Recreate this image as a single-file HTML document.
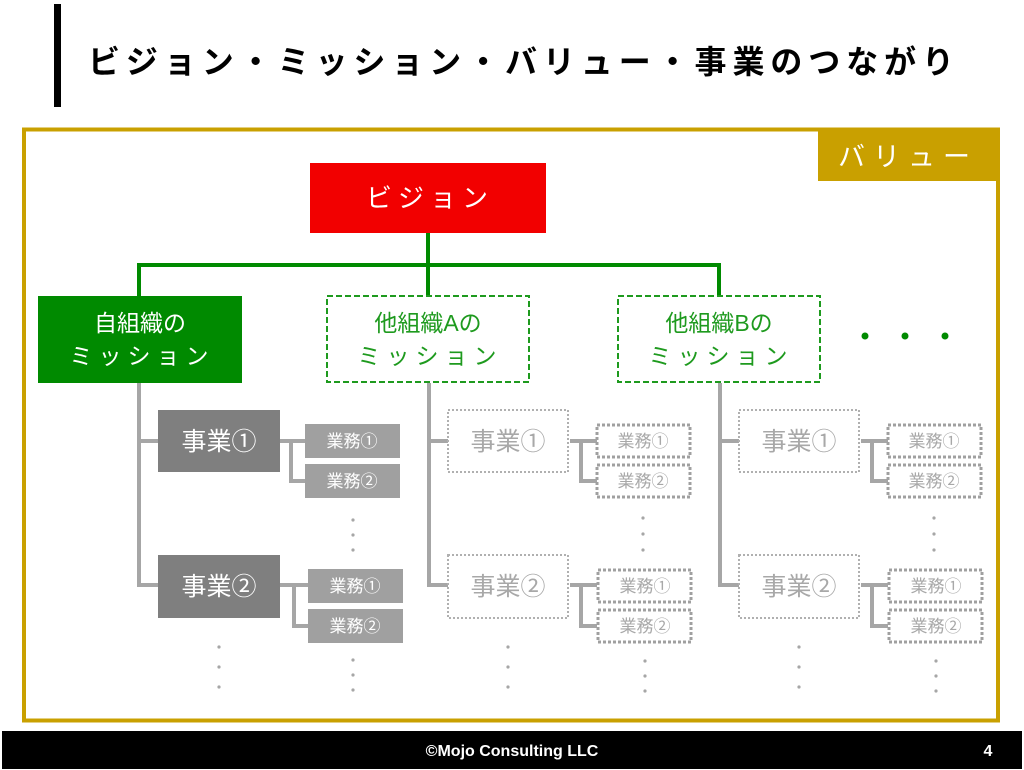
<!DOCTYPE html>
<html><head><meta charset="utf-8"><style>
html,body{margin:0;padding:0;background:#fff;}
svg{display:block;font-family:"Liberation Sans","Noto Sans CJK JP",sans-serif;}
</style></head><body>
<svg width="1024" height="770" viewBox="0 0 1024 770" xmlns="http://www.w3.org/2000/svg">
<rect x="54" y="4" width="7" height="103" fill="#000"/>
<text x="88" y="73" font-size="32" font-weight="bold" textLength="866" lengthAdjust="spacing" fill="#000">ビジョン・ミッション・バリュー・事業のつながり</text>

<rect x="24" y="129.5" width="974" height="591" fill="none" stroke="#C9A000" stroke-width="4"/>
<rect x="818" y="130" width="181" height="51" fill="#C9A000"/>
<text x="908" y="166" font-size="27" fill="#fff" text-anchor="middle" letter-spacing="8">バリュー</text>

<rect x="310" y="163" width="236" height="70" fill="#F20000"/>
<text x="430" y="207" font-size="26" fill="#fff" text-anchor="middle" letter-spacing="6">ビジョン</text>

<g stroke="#008A00" stroke-width="4" fill="none">
<path d="M428 233 V296 M139 296 V265 H719 V296"/>
</g>
<rect x="38" y="296" width="204" height="87" fill="#008A00"/>
<text x="140" y="331" font-size="23" fill="#fff" text-anchor="middle">自組織の</text>
<text x="142" y="364" font-size="23" fill="#fff" text-anchor="middle" letter-spacing="6">ミッション</text>
<rect x="327" y="296" width="202" height="86" fill="#fff" stroke="#1E9A1E" stroke-width="2" stroke-dasharray="6 3"/>
<text x="428" y="331" font-size="23" fill="#1E9A1E" text-anchor="middle">他組織Aの</text>
<text x="430" y="364" font-size="23" fill="#1E9A1E" text-anchor="middle" letter-spacing="6">ミッション</text>
<rect x="618" y="296" width="202" height="86" fill="#fff" stroke="#1E9A1E" stroke-width="2" stroke-dasharray="6 3"/>
<text x="719" y="331" font-size="23" fill="#1E9A1E" text-anchor="middle">他組織Bの</text>
<text x="721" y="364" font-size="23" fill="#1E9A1E" text-anchor="middle" letter-spacing="6">ミッション</text>
<g fill="#008A00"><circle cx="865" cy="336" r="3.5"/><circle cx="905" cy="336" r="3.5"/><circle cx="945" cy="336" r="3.5"/></g>

<!-- column own -->
<g>
<path d="M139 383 V585 H158 M139 441 H158 M280 441 H305 M291 441 V481 H305 M280 585 H308 M294 585 V626 H308" stroke="#A6A6A6" stroke-width="4" fill="none"/>
<rect x="158" y="410" width="122" height="62" fill="#7F7F7F"/>
<text x="219" y="450" font-size="25" fill="#fff" text-anchor="middle">事業①</text>
<rect x="158" y="555" width="122" height="63" fill="#7F7F7F"/>
<text x="219" y="595" font-size="25" fill="#fff" text-anchor="middle">事業②</text>
<rect x="305" y="424" width="95" height="34" fill="#A0A0A0"/>
<text x="352" y="447" font-size="17" fill="#fff" text-anchor="middle">業務①</text>
<rect x="305" y="464" width="95" height="34" fill="#A0A0A0"/>
<text x="352" y="487" font-size="17" fill="#fff" text-anchor="middle">業務②</text>
<rect x="308" y="569" width="95" height="34" fill="#A0A0A0"/>
<text x="355" y="592" font-size="17" fill="#fff" text-anchor="middle">業務①</text>
<rect x="308" y="609" width="95" height="34" fill="#A0A0A0"/>
<text x="355" y="632" font-size="17" fill="#fff" text-anchor="middle">業務②</text>
<g fill="#A6A6A6"><circle cx="353" cy="520" r="1.6"/><circle cx="353" cy="535" r="1.6"/><circle cx="353" cy="550" r="1.6"/>
<circle cx="219" cy="647" r="1.6"/><circle cx="219" cy="667" r="1.6"/><circle cx="219" cy="687" r="1.6"/>
<circle cx="353" cy="660" r="1.6"/><circle cx="353" cy="675" r="1.6"/><circle cx="353" cy="690" r="1.6"/></g>
</g>

<!-- column A / B template -->
<g id="colA" transform="translate(290,0)">
<path d="M139 383 V585 H158 M139 441 H158 M280 441 H307 M291 441 V481 H307 M280 585 H307 M291 585 V626 H307" stroke="#A6A6A6" stroke-width="4" fill="none"/>
<g fill="#fff" stroke="#B0B0B0" stroke-width="2" stroke-dasharray="2 2">
<rect x="158" y="410" width="120" height="62"/>
<rect x="158" y="555" width="120" height="63"/>
</g>
<g fill="#fff" stroke="#A0A0A0" stroke-width="3" stroke-dasharray="3 2">
<rect x="307" y="425" width="93" height="32"/>
<rect x="307" y="465" width="93" height="32"/>
<rect x="308" y="570" width="93" height="32"/>
<rect x="308" y="610" width="93" height="32"/>
</g>
<g fill="#A8A8A8" text-anchor="middle">
<text x="218" y="450" font-size="25">事業①</text>
<text x="218" y="595" font-size="25">事業②</text>
<text x="353" y="447" font-size="17">業務①</text>
<text x="353" y="487" font-size="17">業務②</text>
<text x="355" y="592" font-size="17">業務①</text>
<text x="355" y="632" font-size="17">業務②</text>
</g>
<g fill="#A6A6A6"><circle cx="353" cy="518" r="1.6"/><circle cx="353" cy="534" r="1.6"/><circle cx="353" cy="550" r="1.6"/>
<circle cx="218" cy="647" r="1.6"/><circle cx="218" cy="667" r="1.6"/><circle cx="218" cy="687" r="1.6"/>
<circle cx="355" cy="661" r="1.6"/><circle cx="355" cy="676" r="1.6"/><circle cx="355" cy="691" r="1.6"/></g>
</g>
<use href="#colA" transform="translate(291,0)"/>

<rect x="2" y="731" width="1020" height="38" fill="#000"/>
<text x="512" y="756" font-size="16" font-weight="bold" fill="#fff" text-anchor="middle">©Mojo Consulting LLC</text>
<text x="988" y="756" font-size="16" font-weight="bold" fill="#fff" text-anchor="middle">4</text>
</svg>
</body></html>
